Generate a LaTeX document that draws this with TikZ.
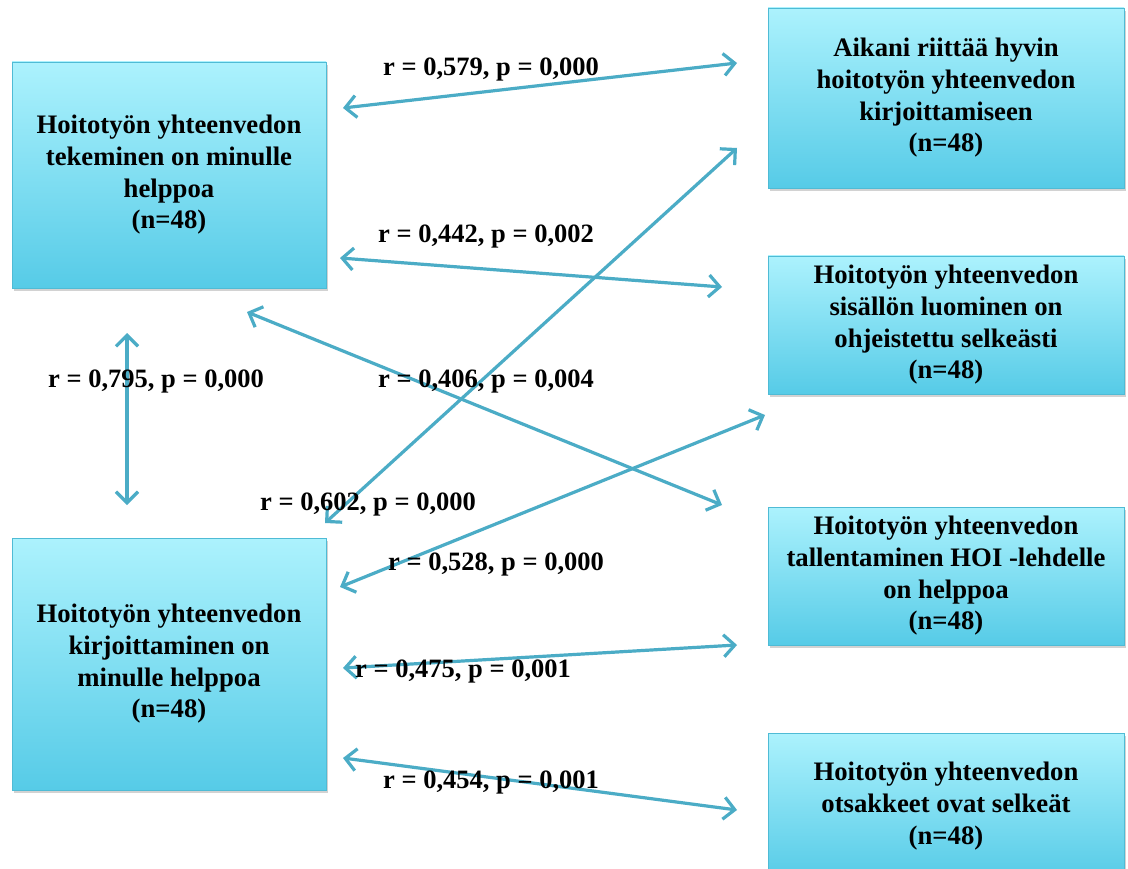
\documentclass[tikz,border=0pt]{standalone}
\usepackage{fontspec}
\setmainfont{Liberation Serif}
\usetikzlibrary{arrows.meta,shadows}
\definecolor{boxtop}{RGB}{172,242,253}
\definecolor{boxbottom}{RGB}{86,203,231}
\definecolor{linkblue}{RGB}{75,172,198}
\begin{document}
\begin{tikzpicture}
[x=1pt,y=-1pt,
  boxdecorate/.style={shape=rectangle,inner sep=0pt,align=center,
    draw=boxbottom!92!black,line width=0.5pt,
    top color=boxtop,bottom color=boxbottom,
    drop shadow={shadow xshift=2pt,shadow yshift=-3pt,opacity=0.35},
    font=\fontsize{26.7}{31.7}\selectfont\bfseries},%
  labeldecorate/.style={anchor=west,inner sep=0pt,
    font=\fontsize{26.5}{31.7}\selectfont\bfseries},%
  linedecorate/.style={arrows={Straight Barb[length=11pt,width=22pt]-Straight Barb[length=11pt,width=22pt]},
    line width=3.2pt,draw=linkblue}]
\clip (0,0) rectangle (1128,869);
\fill[white] (0,0) rectangle (1128,869);
%% boxes
\foreach \nodename/\x/\y/\w/\h/\txt in {
  %% left column
  l1/169/175/314/226/{Hoitotyön yhteenvedon\\tekeminen on minulle\\helppoa\\(n=48)},
  l2/169/664/314/252/{Hoitotyön yhteenvedon\\kirjoittaminen on\\minulle helppoa\\(n=48)},
  %% right column
  r1/946/98/356/180/{Aikani riittää hyvin\\hoitotyön yhteenvedon\\kirjoittamiseen\\(n=48)},
  r2/946/325/356/138/{Hoitotyön yhteenvedon\\sisällön luominen on\\ohjeistettu selkeästi\\(n=48)},
  r3/946/576/356/138/{Hoitotyön yhteenvedon\\tallentaminen HOI -lehdelle\\on helppoa\\(n=48)},
  r4/946/806/356/146/{Hoitotyön yhteenvedon\\otsakkeet ovat selkeät\\(n=48)}} {
  \node (\nodename) at (\x,\y) [boxdecorate,minimum width=\w pt,minimum height=\h pt] {\txt};
}
%% arrow ends
\foreach \nodename/\x/\y in {
  l1r1a/343/108, l1r1b/737/63,
  l1r2a/340/258, l1r2b/722/287,
  l1r3a/247/312, l1r3b/722/505,
  r1l2a/737/148, r1l2b/325/523,
  r2l2a/765/415, r2l2b/340/587,
  l2r3a/343/668, l2r3b/737/645,
  l2r4a/343/758, l2r4b/737/810,
  l1l2a/127/333, l1l2b/127/505} {
  \coordinate (\nodename) at (\x,\y);
}
%% arrows
\path
\foreach \startnode/\endnode in {
  l1r1a/l1r1b, l1r2a/l1r2b, l1r3a/l1r3b, r1l2a/r1l2b,
  r2l2a/r2l2b, l2r3a/l2r3b, l2r4a/l2r4b, l1l2a/l1l2b} {
  (\startnode) edge[linedecorate] (\endnode)
};
%% correlation labels
\foreach \nodename/\x/\y/\txt in {
  c579/383/70/{r = 0,579, p = 0,000},
  c442/378/237/{r = 0,442, p = 0,002},
  c795/48/382/{r = 0,795, p = 0,000},
  c406/378/382/{r = 0,406, p = 0,004},
  c602/260/505/{r = 0,602, p = 0,000},
  c528/388/565/{r = 0,528, p = 0,000},
  c475/355/672/{r = 0,475, p = 0,001},
  c454/383/783/{r = 0,454, p = 0,001}} {
  \node (\nodename) at (\x,\y) [labeldecorate] {\txt};
}
\end{tikzpicture}
\end{document}
